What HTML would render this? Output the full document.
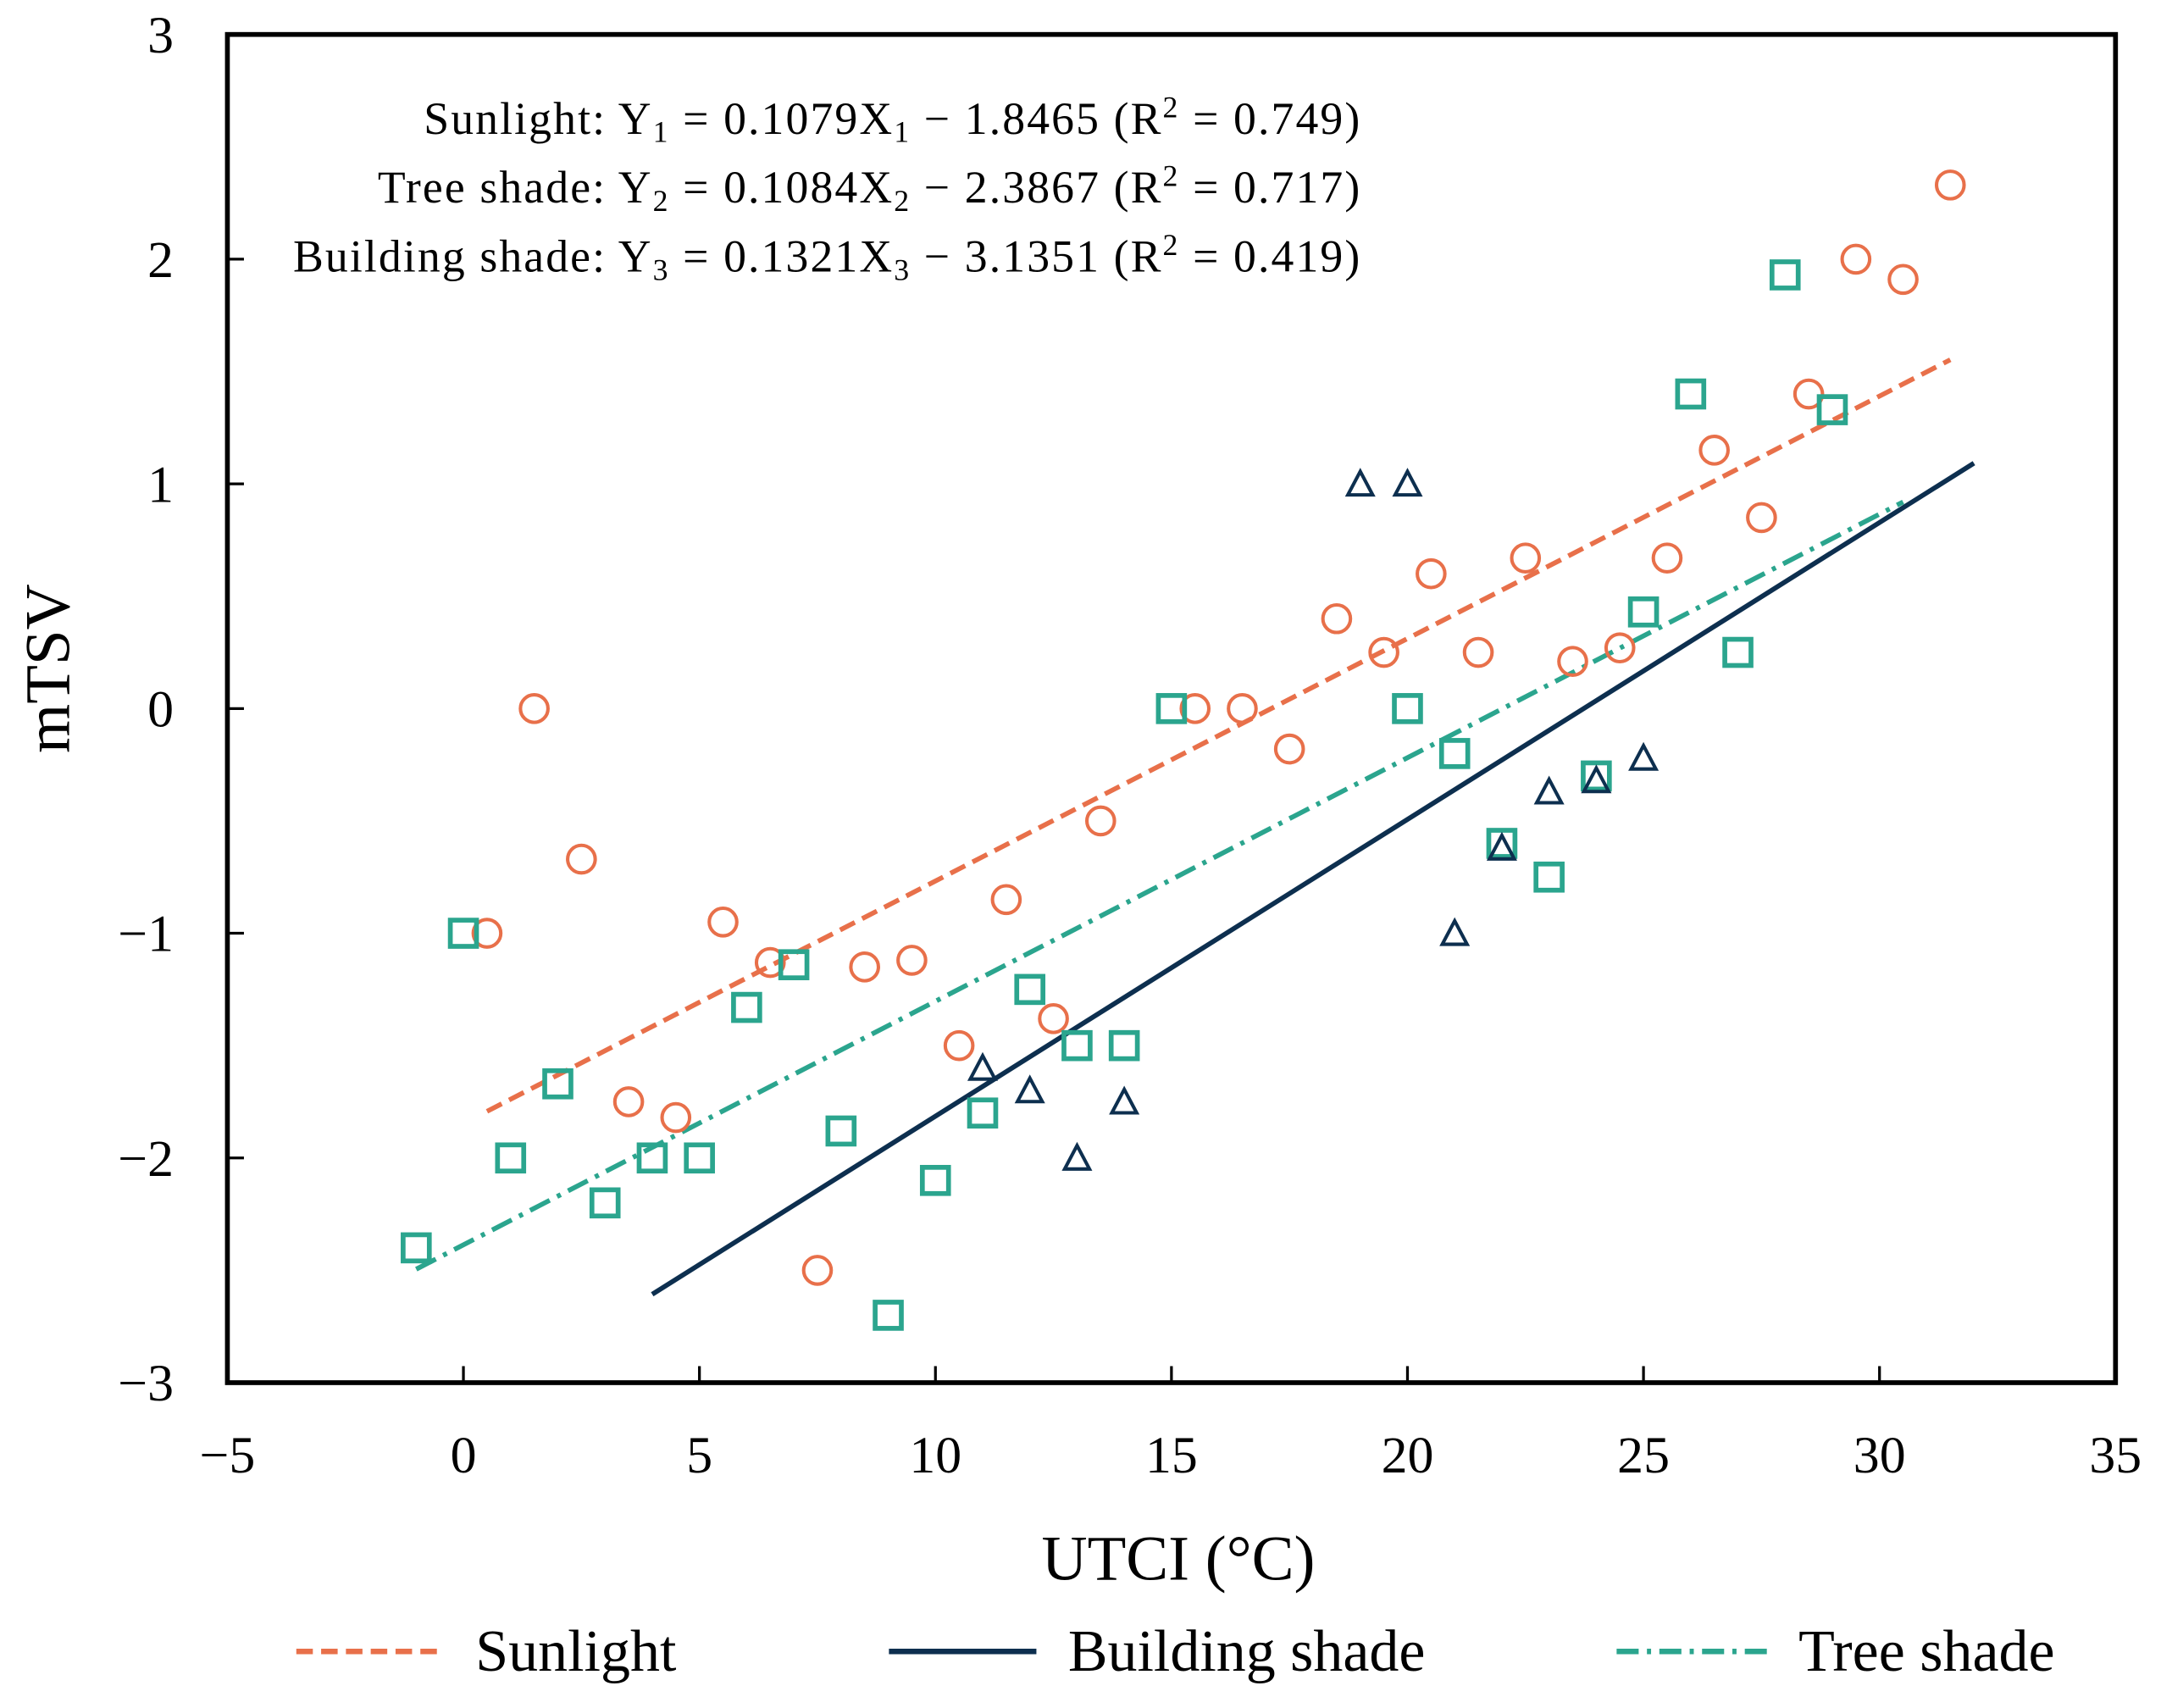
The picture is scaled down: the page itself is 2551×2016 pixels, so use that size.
<!DOCTYPE html>
<html><head><meta charset="utf-8"><style>
html,body{margin:0;padding:0;background:#fff;}
svg{display:block;}
text{font-family:"Liberation Serif",serif;fill:#000;}
</style></head><body>
<svg id="chart" width="2551" height="2016" viewBox="0 0 1568 1239" preserveAspectRatio="none">
<g id="plot"></g>
</svg>
<script>
const xTicks=[-5,0,5,10,15,20,25,30,35];
const yTicks=[-3,-2,-1,0,1,2,3];
const sunX=[0.5,1.5,2.5,3.5,4.5,5.5,6.5,7.5,8.5,9.5,10.5,11.5,12.5,13.5,15.5,16.5,17.5,18.5,19.5,20.5,21.5,22.5,23.5,24.5,25.5,26.5,27.5,28.5,29.5,30.5,31.5];
const sunY=[-1,0,-0.67,-1.75,-1.82,-0.95,-1.13,-2.5,-1.15,-1.12,-1.5,-0.85,-1.38,-0.5,0,0,-0.18,0.4,0.25,0.6,0.25,0.67,0.21,0.27,0.67,1.15,0.85,1.4,2.0,1.91,2.33];
const treeX=[-1,0,1,2,3,4,5,6,7,8,9,10,11,12,13,14,15,20,21,22,23,24,25,26,27,28,29];
const treeY=[-2.4,-1,-2,-1.67,-2.2,-2,-2,-1.33,-1.14,-1.88,-2.7,-2.1,-1.8,-1.25,-1.5,-1.5,0,0,-0.2,-0.6,-0.75,-0.3,0.43,1.4,0.25,1.93,1.33];
const bldX=[11,12,13,14,19,20,21,22,23,24,25];
const bldY=[-1.6,-1.7,-2,-1.75,1,1,-1,-0.62,-0.37,-0.32,-0.22];
const sunFit=[0.1079,-1.8465,0.5,31.5];
const treeFit=[0.1084,-2.3867,-1,30.5];
const bldFit=[0.1321,-3.1351,4,32];
const L=165,R=1535,T=25,B=1003;
const sx=v=>L+(v+5)/40*(R-L);
const sy=v=>B-(v+3)/6*(B-T);
const NS='http://www.w3.org/2000/svg';
const g=document.getElementById('plot');
function mk(tag,attrs,parent){const e=document.createElementNS(NS,tag);for(const k in attrs)e.setAttribute(k,attrs[k]);(parent||g).appendChild(e);return e;}
const ORANGE='#E8704A',TEAL='#2BA58E',NAVY='#0D2F4F';
let fr=mk('rect',{x:L,y:T,width:R-L,height:B-T,fill:'none',stroke:'#000','stroke-width':3.5});


xTicks.forEach(v=>{
  let t=mk('line',{x1:sx(v),x2:sx(v),y1:B,y2:B-12,stroke:'#000','stroke-width':2});
  
  
  let l=mk('text',{x:sx(v),y:1068,'text-anchor':'middle','font-size':38});
  l.textContent=(v<0?'\u2212'+(-v):v);
  
  
});
yTicks.forEach(v=>{
  let t=mk('line',{x1:L,x2:L+12,y1:sy(v),y2:sy(v),stroke:'#000','stroke-width':2});
  
  
  let l=mk('text',{x:126,y:sy(v)+13,'text-anchor':'end','font-size':38});
  l.textContent=(v<0?'\u2212'+(-v):v);
  
  
});
function fitLine(f,color,dash,name){
  let e=mk('line',{x1:sx(f[2]),y1:sy(f[0]*f[2]+f[1]),x2:sx(f[3]),y2:sy(f[0]*f[3]+f[1]),stroke:color,'stroke-width':3.5,'stroke-dasharray':dash});
  
  
}
fitLine(sunFit,ORANGE,'12 6','sunlight-fit-line');
fitLine(bldFit,NAVY,'none','building-fit-line');
fitLine(treeFit,TEAL,'16 6 3 6','tree-fit-line');
sunX.forEach((x,i)=>{
  let c=mk('circle',{cx:sx(x),cy:sy(sunY[i]),r:10,fill:'none',stroke:ORANGE,'stroke-width':2.5});
  
  
});
treeX.forEach((x,i)=>{
  let c=mk('rect',{x:sx(x)-9.5,y:sy(treeY[i])-9.5,width:19,height:19,fill:'none',stroke:TEAL,'stroke-width':3.5});
  
  
});
bldX.forEach((x,i)=>{
  const cx=sx(x),cy=sy(bldY[i]);
  let c=mk('polygon',{points:`${cx},${cy-9} ${cx-9},${cy+8} ${cx+9},${cy+8}`,fill:'none',stroke:NAVY,'stroke-width':2.5});
  
  
});
</script>
<svg style="position:absolute;left:0;top:0" width="2551" height="2016" viewBox="0 0 1568 1239" preserveAspectRatio="none">
<g font-size="33" letter-spacing="1.3">
<text x="988" y="97" text-anchor="end">Sunlight: Y<tspan font-size="22" dy="6">1</tspan><tspan dy="-6"> = 0.1079X</tspan><tspan font-size="22" dy="6">1</tspan><tspan dy="-6"> − 1.8465 (R</tspan><tspan font-size="22" dy="-12">2</tspan><tspan dy="12"> = 0.749)</tspan></text>
<text x="988" y="147" text-anchor="end">Tree shade: Y<tspan font-size="22" dy="6">2</tspan><tspan dy="-6"> = 0.1084X</tspan><tspan font-size="22" dy="6">2</tspan><tspan dy="-6"> − 2.3867 (R</tspan><tspan font-size="22" dy="-12">2</tspan><tspan dy="12"> = 0.717)</tspan></text>
<text x="988" y="197" text-anchor="end">Building shade: Y<tspan font-size="22" dy="6">3</tspan><tspan dy="-6"> = 0.1321X</tspan><tspan font-size="22" dy="6">3</tspan><tspan dy="-6"> − 3.1351 (R</tspan><tspan font-size="22" dy="-12">2</tspan><tspan dy="12"> = 0.419)</tspan></text>
</g>
<text x="855" y="1146" text-anchor="middle" font-size="46">UTCI (°C)</text>
<text x="0" y="0" transform="translate(50,485) rotate(-90)" text-anchor="middle" font-size="46">mTSV</text>
<g>
<line x1="215" y1="1198" x2="322" y2="1198" stroke="#E8704A" stroke-width="4" stroke-dasharray="12 6"/>
<text x="345" y="1212" font-size="43">Sunlight</text>
<line x1="645" y1="1198" x2="752" y2="1198" stroke="#0D2F4F" stroke-width="4"/>
<text x="775" y="1212" font-size="43">Building shade</text>
<line x1="1173" y1="1198" x2="1282" y2="1198" stroke="#2BA58E" stroke-width="4" stroke-dasharray="16 6 3 6"/>
<text x="1305" y="1212" font-size="43">Tree shade</text>
</g>
</svg>
</body></html>
